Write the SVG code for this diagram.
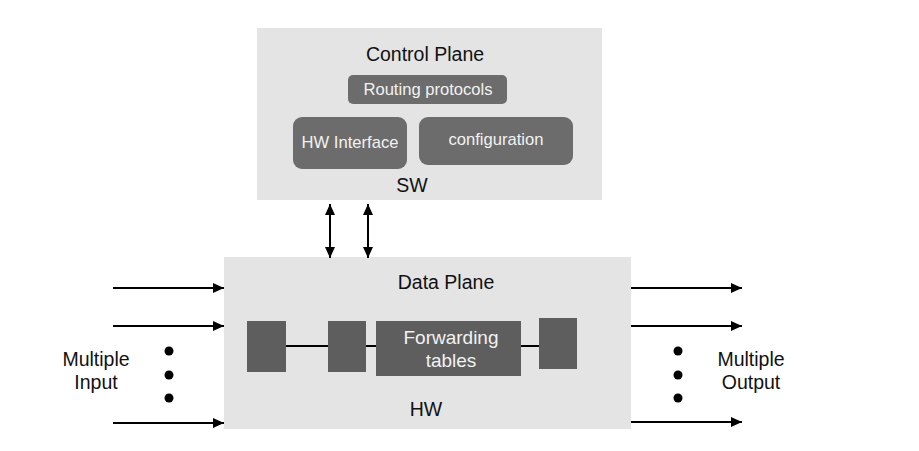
<svg xmlns="http://www.w3.org/2000/svg" width="919" height="451" viewBox="0 0 919 451">
<style>
  .plane { fill: #e4e4e4; }
  .cbox { fill: #6c6c6c; }
  .dbox { fill: #5e5e5e; }
  .lbl { font-family: "Liberation Sans", Arial, sans-serif; fill: #111; text-anchor: middle; }
  .big { font-size: 19.5px; }
  .inner { font-family: "Liberation Sans", Arial, sans-serif; fill: #f2f2f2; text-anchor: middle; font-size: 16.6px; }
  .fwd { font-size: 19px; }
  .conn { stroke: #000; stroke-width: 2; fill: none; }
  .dot { fill: #000; }
</style>
<defs>
  <marker id="ah" viewBox="0 0 11 10" refX="11" refY="5" markerWidth="11" markerHeight="10" markerUnits="userSpaceOnUse" orient="auto-start-reverse">
    <path d="M0,0 L11,5 L0,10 Z" fill="#000"/>
  </marker>
</defs>
<rect width="919" height="451" fill="#fff"/>

<g id="control-plane">
  <rect class="plane" x="257" y="28" width="345" height="172"/>
  <text class="lbl big" x="425" y="61">Control Plane</text>
  <text class="lbl big" x="412" y="192">SW</text>
</g>
<g id="routing-protocols">
  <rect class="cbox" x="348" y="75" width="159" height="29" rx="5"/>
  <text class="inner" x="428" y="95">Routing protocols</text>
</g>
<g id="hw-interface">
  <rect class="cbox" x="293" y="117" width="114" height="52" rx="9"/>
  <text class="inner" x="350" y="148">HW Interface</text>
</g>
<g id="configuration">
  <rect class="cbox" x="419" y="117" width="154" height="48" rx="9"/>
  <text class="inner" x="496" y="145">configuration</text>
</g>

<g id="data-plane">
  <rect class="plane" x="224" y="257" width="407" height="172"/>
  <text class="lbl big" x="446" y="289">Data Plane</text>
  <text class="lbl big" x="426" y="416">HW</text>
</g>

<g id="connectors">
  <line class="conn" x1="330" y1="204" x2="330" y2="258" marker-start="url(#ah)" marker-end="url(#ah)"/>
  <line class="conn" x1="368" y1="204" x2="368" y2="258" marker-start="url(#ah)" marker-end="url(#ah)"/>
  <line class="conn" x1="113" y1="288" x2="224" y2="288" marker-end="url(#ah)"/>
  <line class="conn" x1="113" y1="326" x2="224" y2="326" marker-end="url(#ah)"/>
  <line class="conn" x1="113" y1="423" x2="224" y2="423" marker-end="url(#ah)"/>
  <line class="conn" x1="631" y1="288" x2="742" y2="288" marker-end="url(#ah)"/>
  <line class="conn" x1="631" y1="326" x2="742" y2="326" marker-end="url(#ah)"/>
  <line class="conn" x1="631" y1="422" x2="742" y2="422" marker-end="url(#ah)"/>
  <line class="conn" x1="286" y1="346" x2="539" y2="346"/>
</g>

<g id="block-1"><rect class="dbox" x="247" y="321" width="39" height="51"/></g>
<g id="block-2"><rect class="dbox" x="328" y="321" width="38" height="51"/></g>
<g id="forwarding-tables">
  <rect class="dbox" x="376" y="321" width="145" height="55"/>
  <text class="inner fwd" x="451" y="344">Forwarding</text>
  <text class="inner fwd" x="451" y="367">tables</text>
</g>
<g id="block-4"><rect class="dbox" x="539" y="318" width="38" height="51"/></g>

<g id="input-dots">
  <circle class="dot" cx="169" cy="351" r="4.5"/>
  <circle class="dot" cx="169" cy="375" r="4.5"/>
  <circle class="dot" cx="169" cy="398" r="4.5"/>
</g>
<g id="output-dots">
  <circle class="dot" cx="678" cy="351" r="4.5"/>
  <circle class="dot" cx="678" cy="375" r="4.5"/>
  <circle class="dot" cx="678" cy="398" r="4.5"/>
</g>
<g id="multiple-input">
  <text class="lbl big" x="96" y="366">Multiple</text>
  <text class="lbl big" x="96" y="389">Input</text>
</g>
<g id="multiple-output">
  <text class="lbl big" x="751" y="366">Multiple</text>
  <text class="lbl big" x="751" y="389">Output</text>
</g>
</svg>
